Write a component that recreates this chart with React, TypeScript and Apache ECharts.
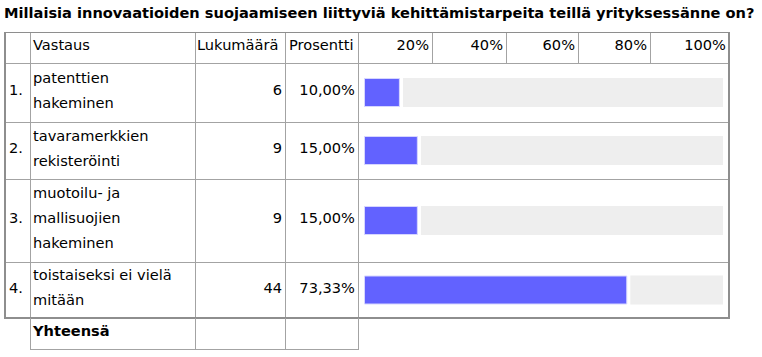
import React, { useEffect, useRef } from "react";
import * as echarts from "echarts";

const TITLE = "Millaisia innovaatioiden suojaamiseen liittyviä kehittämistarpeita teillä yrityksessänne on?";
const HEADERS = ["Vastaus", "Lukumäärä", "Prosentti"];
const TICK_LABELS = ["20%", "40%", "60%", "80%", "100%"];
const ROW_NUMBERS = ["1.", "2.", "3.", "4."];
const ANSWERS = [
  "patenttien\nhakeminen",
  "tavaramerkkien\nrekisteröinti",
  "muotoilu- ja\nmallisuojien\nhakeminen",
  "toistaiseksi ei vielä\nmitään",
];
const COUNTS = [6, 9, 9, 44];
const PERCENTS = [10.0, 15.0, 15.0, 73.33];
const TOTAL_LABEL = "Yhteensä";

// layout (pixels)
const COLS = [5, 30, 195, 285, 358, 729];
const TICK_COLS = [358, 432, 506, 578, 650, 729];
const ROWS = [32, 63, 122, 179, 262, 318];
const TOTAL_BOTTOM = 349;
const TRACK_LEFT = 364;
const TRACK_W = 359;
const GAP_PCT = 0.85;

const FONT = "'DejaVu Sans', Verdana, sans-serif";
const FS = 14.6;
const INNER = "#a3a3a3";
const OUTER = "#8e8e8e";

function rect(x: number, y: number, w: number, h: number, fill: string) {
  return { type: "rect", silent: true, shape: { x, y, width: w, height: h }, style: { fill } };
}

function txt(text: string, x: number, y: number, align: string, bold = false, size = FS) {
  return {
    type: "text",
    silent: true,
    style: {
      text,
      x,
      y,
      align,
      verticalAlign: "middle",
      fontFamily: FONT,
      fontSize: size,
      fontWeight: bold ? "bold" : "normal",
      lineHeight: 25,
      fill: "#000",
    },
  };
}

const fmtPct = (v: number) => v.toFixed(2).replace(".", ",") + "%";

export default function App() {
  const ref = useRef<HTMLDivElement>(null);
  useEffect(() => {
    if (!ref.current) return;
    const chart = echarts.init(ref.current, undefined, { renderer: "svg" });
    const graphics: any[] = [];

    // title
    graphics.push(txt(TITLE, 4, 12, "left", true, 14.6));

    // inner horizontal lines
    for (let r = 1; r <= 4; r++) graphics.push(rect(COLS[0], ROWS[r], COLS[5] - COLS[0], 1, INNER));
    // inner vertical lines
    for (let c = 1; c <= 4; c++) graphics.push(rect(COLS[c], ROWS[0], 1, ROWS[5] - ROWS[0], INNER));
    for (let c = 1; c <= 4; c++) graphics.push(rect(TICK_COLS[c], ROWS[0], 1, ROWS[1] - ROWS[0], INNER));
    // outer border
    graphics.push(rect(COLS[0] - 1, ROWS[0], COLS[5] - COLS[0] + 2, 1, OUTER));
    graphics.push(rect(COLS[0] - 1, ROWS[0], 2, ROWS[5] - ROWS[0] + 1, OUTER));
    graphics.push(rect(COLS[5] - 1, ROWS[0], 2, ROWS[5] - ROWS[0] + 1, OUTER));
    graphics.push(rect(COLS[0] - 1, ROWS[5] - 1, COLS[5] - COLS[0] + 2, 2, OUTER));
    // total row
    graphics.push(rect(COLS[1], TOTAL_BOTTOM, COLS[4] - COLS[1] + 1, 1, INNER));
    for (let c = 1; c <= 4; c++) graphics.push(rect(COLS[c], ROWS[5], 1, TOTAL_BOTTOM - ROWS[5], INNER));

    // header texts
    const hy = (ROWS[0] + ROWS[1]) / 2 - 3;
    graphics.push(txt(HEADERS[0], COLS[1] + 3, hy, "left"));
    graphics.push(txt(HEADERS[1], COLS[2] + 2, hy, "left"));
    graphics.push(txt(HEADERS[2], COLS[3] + 4, hy, "left"));
    TICK_LABELS.forEach((t, i) => graphics.push(txt(t, TICK_COLS[i + 1] - 3, hy, "right")));

    // body texts
    ANSWERS.forEach((a, i) => {
      const y = (ROWS[i + 1] + ROWS[i + 2]) / 2 - 3;
      graphics.push(txt(ROW_NUMBERS[i], COLS[0] + 4, y, "left"));
      graphics.push(txt(a, COLS[1] + 3, y, "left"));
      graphics.push(txt(String(COUNTS[i]), COLS[3] - 3, y, "right"));
      graphics.push(txt(fmtPct(PERCENTS[i]), COLS[4] - 3, y, "right"));
    });
    graphics.push(txt(TOTAL_LABEL, COLS[1] + 3, (ROWS[5] + TOTAL_BOTTOM) / 2 - 3, "left", true));

    const grids: any[] = [];
    const xAxes: any[] = [];
    const yAxes: any[] = [];
    const series: any[] = [];
    PERCENTS.forEach((p, i) => {
      grids.push({ left: TRACK_LEFT, width: TRACK_W, top: ROWS[i + 1], height: ROWS[i + 2] - ROWS[i + 1] });
      xAxes.push({ type: "value", gridIndex: i, min: 0, max: 100, show: false });
      yAxes.push({ type: "category", gridIndex: i, data: [ANSWERS[i]], show: false });
      series.push({
        type: "bar", xAxisIndex: i, yAxisIndex: i, stack: "s" + i, barWidth: 29,
        data: [p],
        itemStyle: { color: "#6262ff", borderColor: "#d6d6ff", borderWidth: 1 },
      });
      series.push({
        type: "bar", xAxisIndex: i, yAxisIndex: i, stack: "s" + i, barWidth: 29,
        data: [GAP_PCT],
        itemStyle: { color: "rgba(0,0,0,0)" },
      });
      series.push({
        type: "bar", xAxisIndex: i, yAxisIndex: i, stack: "s" + i, barWidth: 29,
        data: [100 - p - GAP_PCT],
        itemStyle: { color: "#eeeeee" },
      });
    });

    chart.setOption({
      animation: false,
      backgroundColor: "#ffffff",
      grid: grids,
      xAxis: xAxes,
      yAxis: yAxes,
      series,
      graphic: { elements: graphics },
    });
    return () => chart.dispose();
  }, []);
  return (
    <div
      ref={ref}
      style={{ position: "fixed", left: 0, top: 0, width: 762, height: 357 }}
    />
  );
}
